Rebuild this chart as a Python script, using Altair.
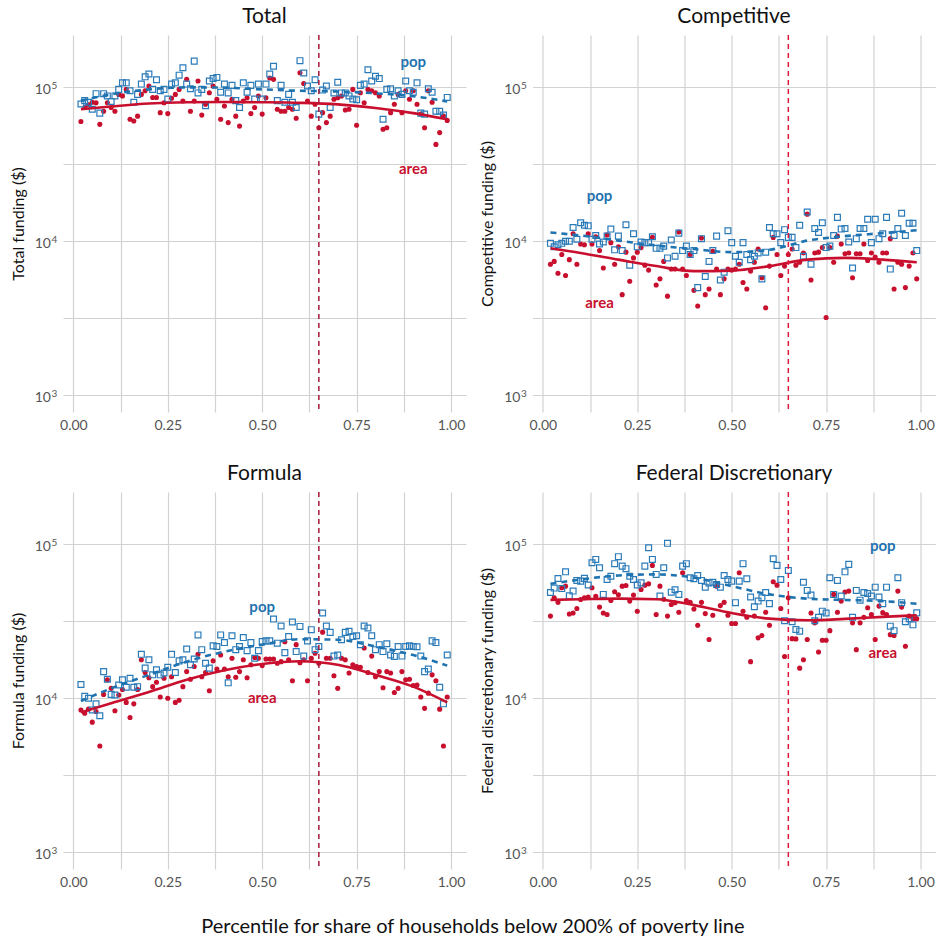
import altair as alt
import pandas as pd

FONT = "Lato"
RED = "#c8102e"
BLUE = "#1f73b0"

# percentile positions (shared by every series)
PCT = [0.02, 0.03, 0.04, 0.05, 0.06, 0.07, 0.08, 0.09,
       0.10, 0.11, 0.12, 0.13, 0.14, 0.15, 0.16, 0.17, 0.18, 0.19,
       0.20, 0.21, 0.22, 0.23, 0.24, 0.25, 0.26, 0.27, 0.28, 0.29,
       0.30, 0.31, 0.32, 0.33, 0.34, 0.35, 0.36, 0.37, 0.38, 0.39,
       0.40, 0.41, 0.42, 0.43, 0.44, 0.45, 0.46, 0.47, 0.48, 0.49,
       0.50, 0.51, 0.52, 0.53, 0.54, 0.55, 0.56, 0.57, 0.58, 0.59,
       0.60, 0.61, 0.62, 0.63, 0.64, 0.65, 0.66, 0.67, 0.68, 0.69,
       0.70, 0.71, 0.72, 0.73, 0.74, 0.75, 0.76, 0.77, 0.78, 0.79,
       0.80, 0.81, 0.82, 0.83, 0.84, 0.85, 0.86, 0.87, 0.88, 0.89,
       0.90, 0.91, 0.92, 0.93, 0.94, 0.95, 0.96, 0.97, 0.98, 0.99]

# values in thousands of dollars
TOTAL_AREA = [60, 74, 77, 80, 79.5, 57.5, 70, 79.5,
              74, 70, 90, 88, 97, 62, 60.5, 65, 90, 95,
              102, 86, 86, 68.5, 79.5, 67.5, 85, 90, 97, 81.5,
              112.7, 70, 81.5, 110, 66, 77.6, 92.3, 102, 83.6, 62,
              75.6, 59, 83.6, 65, 56, 81.5, 85.6, 67.5, 74, 87.8,
              67, 85.6, 115, 112.7, 72, 70, 70, 74, 72, 63,
              124.5, 106, 81.5, 65, 77.6, 54.7, 68.5, 59, 65, 83.6,
              85.6, 87.8, 71.3, 72, 97, 56.7, 92.3, 79.5, 97, 95,
              92.3, 88, 53.4, 54.7, 68.5, 77.6, 90, 68.5, 95, 83.6,
              95, 77.6, 67, 54.7, 95, 80, 42.6, 50.8, 65.2, 61]
TOTAL_POP = [78, 82, 80, 72, 91, 68, 91, 88,
             81, 88, 97, 107, 107, 95, 80, 90, 105, 117,
             122, 97, 112, 95, 97, 84, 105, 107, 120, 134,
             105, 98, 148, 92, 97, 76, 110, 114, 116, 93,
             105, 92, 103, 82, 74, 107, 93, 103, 84, 105,
             84, 105, 122, 137, 82, 103, 80, 90, 80, 74,
             149, 124, 102, 95, 112, 67, 96, 102, 74, 92,
             108, 92, 92, 88, 84, 83, 103, 105, 130, 110,
             118, 114, 62, 97, 98, 88, 95, 90, 110, 95,
             93, 107, 68, 67, 98, 93, 70, 70, 66, 86]

COMP_AREA = [7.1, 7.4, 6.2, 8.2, 6.0, 7.6, 11.2, 7.1,
             9.6, 9.5, 11.2, 9.6, 10.7, 8.7, 6.7, 11.0, 9.8, 7.1,
             9.2, 4.5, 8.5, 5.5, 7.8, 8.5, 9.1, 7.0, 6.5, 10.6,
             5.2, 5.7, 7.4, 4.4, 6.6, 6.6, 11.5, 6.6, 6.0, 8.2,
             4.8, 3.8, 10.5, 4.5, 4.9, 8.6, 6.6, 4.5, 5.7, 6.6,
             6.5, 6.6, 7.1, 5.4, 4.9, 6.4, 7.3, 8.9, 5.8, 3.7,
             6.9, 10.6, 8.2, 6.0, 6.9, 8.2, 8.9, 7.0, 7.3, 8.4,
             15.0, 5.6, 8.4, 8.5, 9.1, 3.2, 9.1, 7.3, 10.8, 9.6,
             8.3, 8.4, 5.8, 8.3, 8.3, 9.6, 7.5, 8.4, 7.9, 7.3,
             8.4, 8.4, 10.4, 4.9, 7.3, 7.1, 5.0, 6.9, 8.4, 5.7]
COMP_POP = [9.7, 9.2, 9.5, 9.7, 10.0, 10.0, 12.3, 10.3,
            13.2, 12.7, 12.6, 10.3, 10.9, 9.6, 9.9, 10.8, 12.0, 8.8,
            10.8, 8.7, 12.8, 7.0, 11.2, 9.2, 9.9, 9.8, 9.8, 10.7,
            9.0, 9.0, 9.3, 7.8, 10.2, 8.0, 11.3, 8.7, 9.3, 8.2,
            8.7, 5.0, 10.4, 5.9, 7.4, 8.7, 10.8, 5.6, 6.3, 11.7,
            9.8, 8.0, 7.3, 9.8, 8.2, 7.6, 8.0, 8.4, 5.7, 8.5,
            12.3, 11.2, 11.2, 9.8, 11.9, 10.6, 10.6, 9.1, 12.7, 8.0,
            15.5, 7.1, 12.1, 11.4, 13.2, 9.1, 9.3, 10.9, 14.3, 12.0,
            12.1, 9.9, 6.7, 10.4, 12.1, 12.1, 13.9, 9.8, 13.9, 10.4,
            11.2, 14.3, 6.6, 10.9, 12.1, 15.2, 10.9, 13.1, 13.1, 8.7]

FORM_AREA = [8.4, 8.0, 8.5, 7.0, 8.2, 4.9, 10.6, 13.2,
             11.6, 8.3, 10.5, 11.4, 9.4, 7.5, 9.2, 11.4, 17.8, 14.7,
             13.6, 11.9, 12.7, 10.2, 13.5, 10.0, 13.8, 9.4, 9.7, 11.9,
             14.9, 13.3, 16.1, 19.3, 13.8, 14.7, 11.2, 17.5, 15.5, 19.1,
             15.5, 13.8, 18.2, 13.7, 14.9, 17.8, 13.6, 16.5, 18.4, 18.2,
             16.3, 18.0, 18.0, 18.0, 16.9, 17.3, 23.3, 17.8, 13.0, 22.3,
             17.0, 17.8, 13.0, 18.2, 19.6, 16.9, 26.9, 18.2, 18.2, 14.0,
             11.6, 18.2, 17.8, 14.6, 16.5, 16.1, 15.9, 21.2, 14.7, 18.8,
             13.8, 14.9, 11.7, 14.9, 14.6, 10.9, 11.6, 14.9, 13.2, 13.3,
             12.1, 12.2, 10.2, 8.6, 10.8, 14.2, 13.0, 8.5, 4.9, 10.2]
FORM_POP = [12.3, 10.3, 10.0, 8.4, 9.2, 7.7, 14.9, 13.3,
            10.6, 10.5, 12.2, 13.2, 11.8, 13.5, 11.8, 11.9, 19.3, 15.7,
            17.8, 14.2, 15.3, 14.2, 14.6, 15.9, 19.3, 14.7, 17.5, 17.8,
            20.9, 16.5, 18.0, 25.8, 20.7, 16.9, 15.7, 21.9, 21.7, 25.8,
            23.0, 12.6, 25.5, 20.7, 21.7, 24.8, 20.4, 23.0, 18.2, 20.4,
            23.4, 23.6, 23.6, 32.7, 22.8, 29.5, 19.8, 25.2, 31.3, 20.1,
            29.3, 18.8, 23.6, 27.9, 20.7, 21.7, 35.8, 29.5, 26.8, 18.8,
            19.1, 24.0, 26.8, 27.2, 25.2, 25.5, 22.3, 29.5, 28.6, 25.5,
            20.7, 22.3, 20.1, 22.6, 19.1, 18.7, 21.7, 18.8, 21.7, 21.9,
            21.7, 21.6, 18.8, 14.9, 15.5, 23.6, 23.0, 11.8, 9.2, 19.1]

FED_AREA = [34.2, 45, 42, 52.2, 53.5, 35.3, 35.8, 38.3,
            43.8, 45.0, 45.5, 52.2, 46, 39.1, 35.8, 35.0, 43.2, 49.2,
            47, 53.5, 54.0, 42.8, 46.8, 36.8, 50.9, 54.3, 55.4, 73.0,
            35.0, 53.5, 44, 34.2, 40.7, 41.7, 36.2, 65.4, 43.2, 42.0,
            38, 29.8, 42.0, 35.5, 24.1, 34.6, 53.5, 40, 42.0, 34.6,
            30.6, 30.6, 65.4, 36.8, 33.6, 17.3, 34.2, 24.7, 25.6, 36.2,
            29.8, 57.1, 54.3, 38.3, 18.7, 45.0, 24.4, 24.3, 15.7, 17.8,
            24.1, 35.8, 30.9, 20.0, 23.8, 23.8, 27.5, 47.3, 36.2, 42.8,
            49.0, 49.7, 30.9, 20.7, 30.9, 33.6, 38.7, 35.0, 24.1, 39.7,
            36, 35.0, 25.9, 25.6, 49.7, 39.1, 21.8, 34.2, 32.9, 32.9]
FED_POP = [48.7, 52, 60, 51.6, 66.3, 46.3, 49.7, 58.3,
           57.7, 60.1, 54.4, 75.9, 79.8, 70.5, 47.3, 59.1, 62.1, 74.9,
           83.2, 72.2, 69.5, 62.1, 59.1, 54.4, 56.2, 72.2, 95.1, 79.8,
           63.8, 46.2, 70.5, 101.5, 48.9, 50.7, 47.3, 72.2, 74.9, 60.7,
           59.8, 62.8, 58.3, 52.7, 56.2, 56.7, 54.9, 52.7, 62.8, 59.1,
           57.7, 41.8, 57.7, 74.9, 59.8, 45.5, 39.3, 42.8, 45.0, 48.7,
           41.2, 80.6, 73.0, 59.1, 31.9, 67.7, 31.4, 28.0, 27.3, 56.7,
           50.2, 46.8, 31.9, 33.6, 36.8, 35.8, 60.7, 47.3, 58.3, 46.2,
           66.3, 74.1, 33.6, 50.2, 43.4, 48.7, 47.9, 46.2, 52.7, 45.5,
           41.2, 52.7, 29.4, 27.5, 60.7, 41.8, 31.4, 32.9, 30, 35.9]

# smoothed fits (thousands of dollars)
FIT_X = [0.02, 0.10, 0.20, 0.30, 0.40, 0.50, 0.60, 0.70, 0.80, 0.90, 0.99]
TOTAL_AREA_FIT = [72, 75, 78.5, 80, 80.3, 80, 79.3, 77.5, 73.5, 68, 62]
TOTAL_POP_FIT = [82, 90, 97, 100, 99.5, 97, 95, 94, 91.5, 87.5, 81]
COMP_AREA_FIT = [9.0, 8.4, 7.6, 6.9, 6.4, 6.45, 6.9, 7.6, 7.8, 7.6, 7.3]
COMP_POP_FIT = [11.4, 10.9, 10.1, 9.4, 8.9, 8.5, 8.8, 10.1, 10.8, 11.3, 11.8]
FORM_AREA_FIT = [8.1, 9.3, 11.0, 13.2, 15.2, 16.7, 17.4, 16.5, 14.2, 11.9, 9.4]
FORM_POP_FIT = [9.6, 11.6, 14.2, 17.3, 20.1, 22.3, 24.2, 24.0, 21.7, 19.1, 16.3]
FED_AREA_FIT = [43.6, 44, 44.4, 44, 40.3, 35.8, 32.9, 32.1, 32.8, 33.8, 34.6]
FED_POP_FIT = [55.4, 59.1, 62.8, 63.8, 60.7, 53.5, 47.3, 44.4, 43.5, 42.8, 41.1]

CUTOFF = 0.65

# label positions (x percentile, y thousands)
LABELS = {
    "Total": [(0.90, 146, "pop"), (0.90, 29.4, "area")],
    "Competitive": [(0.15, 19.6, "pop"), (0.15, 3.96, "area")],
    "Formula": [(0.50, 39.1, "pop"), (0.50, 10.0, "area")],
    "Federal Discretionary": [(0.90, 97.5, "pop"), (0.90, 19.6, "area")],
}

# y tick labels: base and exponent
DECADES = [1000, 10000, 100000]
EXPONENTS = ["3", "4", "5"]

X_DOMAIN = [-0.0275, 1.0397]
Y_DOMAIN = [778, 218800]

W, H = 403, 377


def panel(title, ytitle, area, pop, afit, pfit, vcolor):
    xs = alt.Scale(domain=X_DOMAIN, nice=False, zero=False)
    ys = alt.Scale(type="log", domain=Y_DOMAIN, nice=False)
    xenc = alt.X(
        "x:Q", scale=xs, title=None,
        axis=alt.Axis(
            values=[0, 0.125, 0.25, 0.375, 0.5, 0.625, 0.75, 0.875, 1.0],
            labelExpr="(datum.value * 4) % 1 == 0 ? format(datum.value, '.2f') : ''",
            grid=True, domain=False, ticks=False, labelPadding=6,
        ),
    )
    yenc = alt.Y(
        "y:Q", scale=ys, title=ytitle,
        axis=alt.Axis(
            values=[1000, 3162.28, 10000, 31622.8, 100000, 316228],
            labelExpr="(datum.value == 1000 || datum.value == 10000 || datum.value == 100000) ? '10' : ''",
            grid=True, domain=False, ticks=False, labelPadding=12.5, labelOffset=2,
            titlePadding=8,
        ),
    )
    pts_a = pd.DataFrame({"x": PCT, "y": [v * 1000 for v in area]})
    pts_p = pd.DataFrame({"x": PCT, "y": [v * 1000 for v in pop]})
    fit_a = pd.DataFrame({"x": FIT_X, "y": [v * 1000 for v in afit]})
    fit_p = pd.DataFrame({"x": FIT_X, "y": [v * 1000 for v in pfit]})
    lab = pd.DataFrame([{"x": a, "y": b * 1000, "t": t} for a, b, t in LABELS[title]])
    lab["c"] = lab["t"].map({"pop": BLUE, "area": RED})
    expo = pd.DataFrame({"y": DECADES, "e": EXPONENTS})

    l_pop = alt.Chart(pts_p).mark_point(
        shape="square", filled=False, size=34, strokeWidth=1.2, color="#2b7bb9", opacity=1
    ).encode(x=xenc, y=yenc)
    l_area = alt.Chart(pts_a).mark_circle(size=26, color=RED, opacity=1).encode(x=xenc, y=yenc)
    l_fa = alt.Chart(fit_a).mark_line(color=RED, strokeWidth=2.6, interpolate="monotone").encode(x=xenc, y=yenc)
    l_fp = alt.Chart(fit_p).mark_line(
        color=BLUE, strokeWidth=2.6, strokeDash=[6, 5], interpolate="monotone"
    ).encode(x=xenc, y=yenc)
    l_v = alt.Chart(pd.DataFrame({"x": [CUTOFF]})).mark_rule(
        color=vcolor, strokeWidth=1.5, strokeDash=[5, 4]
    ).encode(x=xenc)
    l_t = alt.Chart(lab).mark_text(
        font=FONT, fontSize=15, fontWeight="bold", align="center", baseline="middle"
    ).encode(x=xenc, y=yenc, text="t:N", color=alt.Color("c:N", scale=None))
    l_e = alt.Chart(expo).mark_text(
        font=FONT, fontSize=10, align="left", baseline="alphabetic", color="#555555", dy=1.5
    ).encode(x=alt.value(-11.5), y=yenc, text="e:N")

    return alt.layer(l_area, l_pop, l_fa, l_fp, l_v, l_t, l_e).properties(
        width=W, height=H,
        title=alt.TitleParams(title, font=FONT, fontSize=21, fontWeight="normal",
                              color="#111111", anchor="middle", offset=7),
    )


p1 = panel("Total", "Total funding ($)", TOTAL_AREA, TOTAL_POP, TOTAL_AREA_FIT, TOTAL_POP_FIT, "#a8173a")
p2 = panel("Competitive", "Competitive funding ($)", COMP_AREA, COMP_POP, COMP_AREA_FIT, COMP_POP_FIT, "#e0163c")
p3 = panel("Formula", "Formula funding ($)", FORM_AREA, FORM_POP, FORM_AREA_FIT, FORM_POP_FIT, "#a8173a")
p4 = panel("Federal Discretionary", "Federal discretionary funding ($)", FED_AREA, FED_POP, FED_AREA_FIT, FED_POP_FIT, "#e0163c")

chart = alt.vconcat(
    alt.hconcat(p1, p2, spacing=13.5),
    alt.hconcat(p3, p4, spacing=13.5),
    spacing=31,
).properties(
    title=alt.TitleParams(
        "Percentile for share of households below 200% of poverty line",
        orient="bottom", anchor="middle", font=FONT, fontSize=20,
        fontWeight="normal", color="#111111", offset=28,
    ),
    padding={"left": 10, "top": 6, "right": 0, "bottom": 5},
).configure_view(stroke=None).configure_axis(
    labelFont=FONT, labelFontSize=14, labelColor="#555555",
    titleFont=FONT, titleFontSize=16, titleFontWeight="normal", titleColor="#111111",
    gridColor="#d2d2d2", gridWidth=1.2,
)

chart.save("out.html", embed_options={"renderer": "svg", "actions": False})
